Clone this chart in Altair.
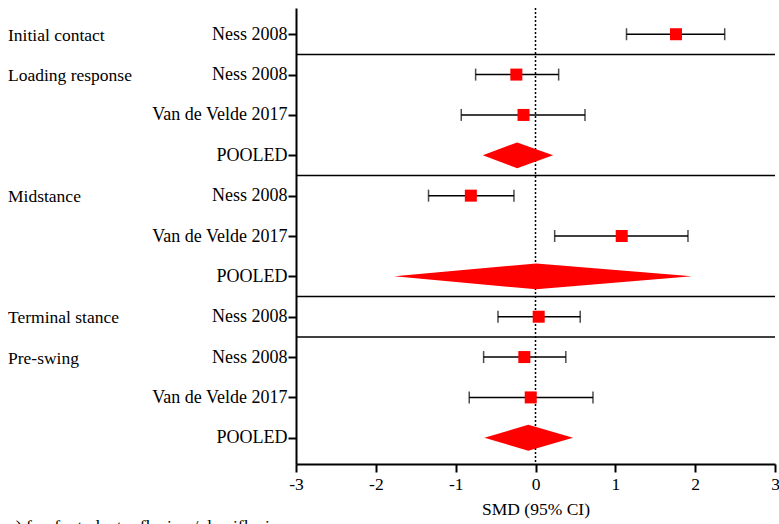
import altair as alt
import pandas as pd

# Forest plot: standardised mean differences by gait phase
studies = ["Ness 2008", "Ness 2008", "Van de Velde 2017", "POOLED",
           "Ness 2008", "Van de Velde 2017", "POOLED",
           "Ness 2008",
           "Ness 2008", "Van de Velde 2017", "POOLED"]
smd = [1.76, -0.24, -0.15, -0.23, -0.81, 1.08, 0.01, 0.04, -0.14, -0.06, -0.09]
ci_low = [1.14, -0.75, -0.93, -0.66, -1.34, 0.24, -1.77, -0.47, -0.65, -0.83, -0.64]
ci_high = [2.37, 0.29, 0.62, 0.22, -0.27, 1.91, 1.96, 0.56, 0.38, 0.72, 0.47]

phases = ["Initial contact", "Loading response", "Midstance", "Terminal stance", "Pre-swing"]
phase_first_row = [1, 2, 5, 8, 9]

x_ticks = [-3, -2, -1, 0, 1, 2, 3]
x_title = "SMD (95% CI)"
caption = "a) forefoot plantar flexion / dorsiflexion"

FONT = "Liberation Serif"
FS = 17.5
RED = "#ff0000"
DIAMOND_HALF = 0.32  # half-height of pooled diamonds, in row units

rows = list(range(1, len(studies) + 1))
df = pd.DataFrame({"row": rows, "study": studies, "smd": smd,
                   "lo": ci_low, "hi": ci_high})
df["pooled"] = df["study"] == "POOLED"
single = df[~df["pooled"]]
pooled = df[df["pooled"]]

# polygon vertices for the pooled diamonds
diamond_pts = []
for _, r in pooled.iterrows():
    diamond_pts.append({"row": r["row"], "x": r["lo"], "y1": r["row"], "y2": r["row"]})
    diamond_pts.append({"row": r["row"], "x": r["smd"],
                        "y1": r["row"] - DIAMOND_HALF, "y2": r["row"] + DIAMOND_HALF})
    diamond_pts.append({"row": r["row"], "x": r["hi"], "y1": r["row"], "y2": r["row"]})
diamonds = pd.DataFrame(diamond_pts)

phase_df = pd.DataFrame({"phase": phases, "row": phase_first_row})
sep_df = pd.DataFrame({"row": [r - 0.5 for r in phase_first_row[1:]]})

label_expr = "[" + ",".join("'%s'" % s for s in studies) + "][datum.value - 1]"

xscale = alt.Scale(domain=[-3, 3], nice=False, zero=False)
yscale = alt.Scale(domain=[0.35, len(studies) + 0.65], reverse=True, nice=False, zero=False)

x_axis = alt.Axis(values=x_ticks, labelExpr="'' + datum.value", title=x_title,
                  grid=False, tickSize=8, tickWidth=2, domainWidth=2,
                  labelPadding=3, titlePadding=8, labelFlush=False)
y_axis = alt.Axis(values=rows, labelExpr=label_expr, title=None, grid=False,
                  tickSize=8, tickWidth=2, domainWidth=2, labelPadding=1,
                  labelFontSize=18)

points_y = alt.Y("row:Q", scale=yscale, axis=y_axis)

zero_line = alt.Chart(pd.DataFrame({"x": [0]})).mark_rule(
    color="black", strokeDash=[2, 2], strokeWidth=1.5
).encode(x=alt.X("x:Q", scale=xscale, axis=x_axis))

separators = alt.Chart(sep_df).mark_rule(color="black", strokeWidth=1.5).encode(
    y=alt.Y("row:Q", scale=yscale)
)

whiskers = alt.Chart(single).mark_rule(color="black", strokeWidth=1.5).encode(
    x=alt.X("lo:Q", scale=xscale), x2="hi:Q", y=points_y
)
caps_lo = alt.Chart(single).mark_tick(color="black", orient="vertical",
                                      size=12, thickness=1.5).encode(
    x=alt.X("lo:Q", scale=xscale), y=alt.Y("row:Q", scale=yscale)
)
caps_hi = alt.Chart(single).mark_tick(color="black", orient="vertical",
                                      size=12, thickness=1.5).encode(
    x=alt.X("hi:Q", scale=xscale), y=alt.Y("row:Q", scale=yscale)
)
squares = alt.Chart(single).mark_square(size=144, color=RED, opacity=1,
                                        filled=True).encode(
    x=alt.X("smd:Q", scale=xscale), y=alt.Y("row:Q", scale=yscale)
)
diamond_marks = alt.Chart(diamonds).mark_area(color=RED, orient="vertical",
                                              opacity=1).encode(
    x=alt.X("x:Q", scale=xscale),
    y=alt.Y("y1:Q", scale=yscale),
    y2="y2:Q",
    detail="row:N",
)

phase_labels = alt.Chart(phase_df).mark_text(
    align="left", baseline="middle", font=FONT, fontSize=FS, color="black", dy=1.5
).encode(x=alt.value(-288), y=alt.Y("row:Q", scale=yscale), text="phase:N")

# caption sits at the bottom edge of the figure
caption_text = alt.Chart(pd.DataFrame({"t": [caption]})).mark_text(
    align="left", baseline="alphabetic", font=FONT, fontSize=FS, color="black"
).encode(x=alt.value(-288), y=alt.value(524), text="t:N")

chart = alt.layer(
    separators, zero_line, whiskers, caps_lo, caps_hi, squares, diamond_marks,
    phase_labels, caption_text,
).properties(
    width=479, height=456,
    autosize=alt.AutoSizeParams(type="none"),
    padding={"left": 296, "top": 8, "right": 4, "bottom": 60},
).configure_view(
    strokeWidth=0
).configure_axis(
    labelFont=FONT, titleFont=FONT, labelFontSize=FS, titleFontSize=FS,
    labelColor="black", titleColor="black", domainColor="black", tickColor="black",
    titleFontWeight="normal",
)

chart.save("out.html", embed_options={"renderer": "svg", "actions": False})
